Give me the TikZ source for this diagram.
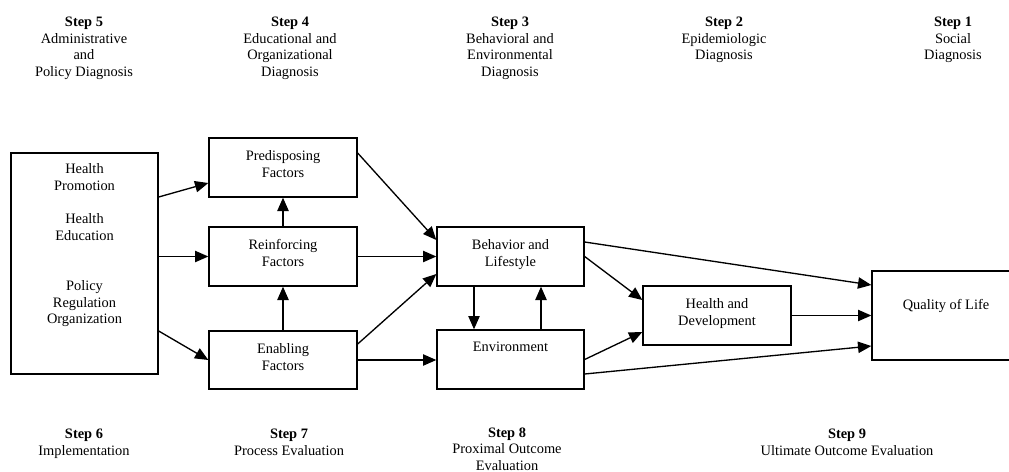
\documentclass[tikz,border=0pt]{standalone}
\usepackage{fontspec}
\setmainfont{Liberation Serif}
\usetikzlibrary{arrows.meta,calc}
\begin{document}
\begin{tikzpicture}[x=0.75pt,y=-0.75pt,
  font=\fontsize{10.8}{12.5}\selectfont,
  box/.style={draw,line width=1pt,align=center,inner sep=0pt,
    execute at end node={\rule[-5pt]{0pt}{5pt}}},
  txt/.style={align=center,inner sep=0pt,anchor=base},
  arr/.style={line width=1pt,-{Triangle[length=10pt,width=8.5pt]}}]
\useasboundingbox (0,0) rectangle (1009,471);
\clip (0,0) rectangle (1009,471);

% headers (base anchor = baseline of last line)
\node[txt] (s5) at (84,76.5) {\textbf{Step 5}\\Administrative\\and\\Policy Diagnosis};
\node[txt] (s4) at (290,76.5) {\textbf{Step 4}\\Educational and\\Organizational\\Diagnosis};
\node[txt] (s3) at (510,76.5) {\textbf{Step 3}\\Behavioral and\\Environmental\\Diagnosis};
\node[txt] (s2) at (724,59.8) {\textbf{Step 2}\\Epidemiologic\\Diagnosis};
\node[txt] (s1) at (953,59.8) {\textbf{Step 1}\\Social\\Diagnosis};

% footers
\node[txt] (s6) at (84,455.2) {\textbf{Step 6}\\Implementation};
\node[txt] (s7) at (289,455.2) {\textbf{Step 7}\\Process Evaluation};
\node[txt] (s8) at (507,470.5) {\textbf{Step 8}\\Proximal Outcome\\Evaluation};
\node[txt] (s9) at (847,455.2) {\textbf{Step 9}\\Ultimate Outcome Evaluation};

% boxes
\node[box,minimum width=110.25pt,minimum height=165.75pt] (L) at (84.5,263.5) {};
\node[txt] (L1) at (84.5,190.2) {Health\\Promotion};
\node[txt] (L2) at (84.5,240.2) {Health\\Education};
\node[txt] (L3) at (84.5,323.8) {Policy\\Regulation\\Organization};

\node[box,minimum width=111pt,minimum height=44.25pt] (Pre) at (283,167.5) {Predisposing\\Factors};
\node[box,minimum width=111pt,minimum height=44.25pt] (Rei) at (283,256.5) {Reinforcing\\Factors};
\node[box,minimum width=111pt,minimum height=43.5pt] (Ena) at (283,360) {Enabling\\Factors};

\node[box,minimum width=110.25pt,minimum height=44.25pt] (Beh) at (510.5,256.5) {Behavior and\\Lifestyle};
\node[box,minimum width=110.25pt,minimum height=44.25pt] (Env) at (510.5,359.5) {};
\node[txt] (EnvT) at (510.5,351.5) {Environment};

\node[box,minimum width=111pt,minimum height=44.25pt] (HD) at (717,315.5) {Health and\\Development};
\node[box,minimum width=107.25pt,minimum height=66.75pt] (Q) at (943.5,315.5) {};
\node[txt] (QT) at (946,309.5) {Quality of Life};

% connectors
\draw[arr] ($(L.east)+(0,-66.5)$) -- ($(Pre.west)+(0,15.5)$);
\draw[arr] (Rei.west -| L.east) -- (Rei.west);
\draw[arr] ($(L.east)+(0,67.5)$) -- (Ena.west);
\draw[arr] (Rei.north) -- (Pre.south);
\draw[arr] (Ena.north) -- (Rei.south);

\draw[arr] ($(Pre.east)+(0,-14.5)$) -- ($(Beh.west)+(0,-16.5)$);
\draw[arr] (Rei.east) -- (Beh.west);
\draw[arr] ($(Ena.east)+(0,-16)$) -- ($(Beh.west)+(0,17.5)$);
\draw[arr] (Ena.east) -- (Ena.east -| Env.west);

\draw[arr] ($(Beh.south)+(-36.5,0)$) -- ($(Env.north)+(-36.5,0)$);
\draw[arr] ($(Env.north)+(30.5,0)$) -- ($(Beh.south)+(30.5,0)$);

\draw[arr] ($(Beh.east)+(0,-14.5)$) -- ($(Q.west)+(0,-30.5)$);
\draw[arr] (Beh.east) -- ($(HD.west)+(0,-15.5)$);
\draw[arr] (Env.east) -- ($(HD.west)+(0,16.5)$);
\draw[arr] ($(Env.east)+(0,14.5)$) -- ($(Q.west)+(0,30.5)$);
\draw[arr] (HD.east) -- (HD.east -| Q.west);
\end{tikzpicture}
\end{document}
